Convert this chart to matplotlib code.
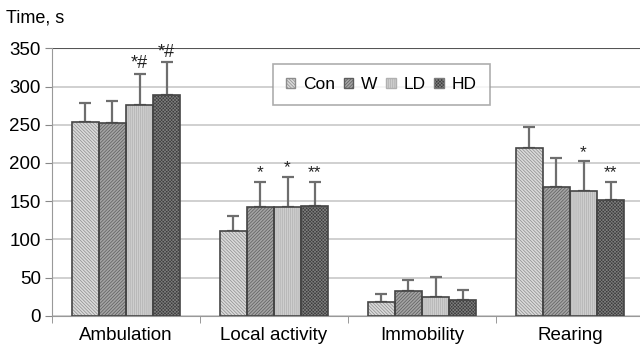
import numpy as np
import matplotlib
matplotlib.use("Agg")
import matplotlib.pyplot as plt
from matplotlib.patches import Patch

plt.rcParams['font.family'] = ['Liberation Sans', 'DejaVu Sans']
plt.rcParams['hatch.linewidth'] = 0.5

categories = ['Ambulation', 'Local activity', 'Immobility', 'Rearing']
groups = ['Con', 'W', 'LD', 'HD']

con = [253, 111, 18, 220]
w = [252, 142, 32, 168]
ld = [276, 142, 25, 163]
hd = [289, 144, 21, 151]

con_err = [26, 20, 10, 27]
w_err = [29, 33, 15, 39]
ld_err = [41, 40, 26, 39]
hd_err = [43, 31, 12, 24]

marks = {
    (0, 2): '*#', (0, 3): '*#',
    (1, 1): '*', (1, 2): '*', (1, 3): '**',
    (3, 2): '*', (3, 3): '**',
}

values = [con, w, ld, hd]
errors = [con_err, w_err, ld_err, hd_err]
faces = ['#dadada', '#a4a4a4', '#cecece', '#3c3c3c']
hatch_cols = ['#8c8c8c', '#5c5c5c', '#b0b0b0', '#7c7c7c']
hatches = ['\\' * 10, '/' * 10, '|' * 8, 'x' * 10]

fig = plt.figure(figsize=(6.4, 3.5), dpi=100)
ax = fig.add_axes([52 / 640, 0.098, 592 / 640, 0.764])

x = np.arange(len(categories))
bw = 0.183
for i in range(4):
    pos = x + (i - 1.5) * bw
    ax.bar(pos, values[i], bw, color=faces[i], hatch=hatches[i],
           edgecolor=hatch_cols[i], linewidth=0, zorder=3)
    ax.bar(pos, values[i], bw, fill=False, edgecolor='#454545',
           linewidth=1.2, zorder=4)
    ax.errorbar(pos, values[i], yerr=[np.zeros(4), errors[i]], fmt='none',
                ecolor='#6e6e6e', elinewidth=1.6, capsize=4, capthick=1.6,
                zorder=2)

for (c, g), txt in marks.items():
    top = values[g][c] + errors[g][c]
    ax.text(x[c] + (g - 1.5) * bw, top + 2, txt, ha='center', va='bottom',
            fontsize=13 if '#' in txt else 12.5, color='#222222')

ax.set_xlim(-0.5, 3.5)
ax.set_ylim(0, 350)
ax.set_yticks(range(0, 351, 50))
ax.set_xticks(x)
ax.set_xticklabels(categories)
ax.set_xticks(np.arange(-0.5, 4, 1), minor=True)
ax.tick_params(axis='x', which='major', length=0, pad=8, labelsize=13.5)
ax.tick_params(axis='x', which='minor', length=5, color='#888888')
ax.tick_params(axis='y', length=5, color='#888888', labelsize=13.5, pad=3)
ax.yaxis.grid(True, color='#c8c8c8', linewidth=1.2, zorder=0)
ax.set_axisbelow(True)
for s in ['top', 'right']:
    ax.spines[s].set_visible(False)
ax.spines['left'].set_color('#999999')
ax.spines['bottom'].set_color('#999999')
ax.axhline(350, color='#555555', linewidth=1.5, zorder=1)

handles = [Patch(facecolor=faces[i], hatch=hatches[i], edgecolor=hatch_cols[i],
                 label=groups[i]) for i in range(4)]
leg = ax.legend(handles=handles, ncol=4, loc='upper left',
                bbox_to_anchor=(0.373, 0.941), fontsize=12.5, frameon=True,
                fancybox=False, edgecolor='#999999', handlelength=0.55,
                handleheight=0.55, handletextpad=0.45, columnspacing=0.5,
                borderpad=0.75, borderaxespad=0)
leg.get_frame().set_linewidth(1.2)

fig.text(6 / 640, 1 - 18 / 350, 'Time, s', fontsize=13, va='center', ha='left')

fig.savefig('out.png', dpi=100)
